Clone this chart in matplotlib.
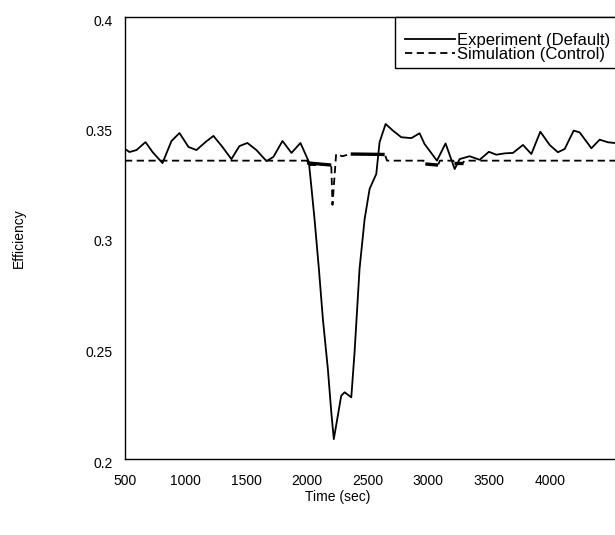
import matplotlib
matplotlib.use("Agg")
import matplotlib.pyplot as plt
import matplotlib.transforms as mtransforms
from matplotlib.patches import Rectangle

plt.rcParams['font.family'] = ['Liberation Sans', 'DejaVu Sans']

# Experiment (Default)
exp_t = [500, 537, 595, 669, 727, 809, 883, 949, 1023, 1089,
         1163, 1229, 1303, 1377, 1443, 1509, 1583, 1666, 1723, 1798,
         1872, 1946, 2015, 2035, 2062, 2098, 2131, 2172, 2200, 2221,
         2282, 2310, 2365, 2392, 2433, 2475, 2516, 2571, 2598, 2648,
         2708, 2777, 2860, 2928, 2969, 3010, 3071, 3142, 3217, 3258,
         3340, 3423, 3499, 3560, 3630, 3697, 3780, 3849, 3923, 4000,
         4068, 4124, 4198, 4247, 4344, 4412, 4481, 4536]
exp_v = [0.3403, 0.3389, 0.3398, 0.3434, 0.3389, 0.3339, 0.3439, 0.3475, 0.3412, 0.3398,
         0.3434, 0.3462, 0.3412, 0.3357, 0.3416, 0.3430, 0.3398, 0.3348, 0.3367, 0.3439,
         0.3385, 0.3430, 0.3345, 0.3237, 0.3086, 0.2860, 0.2633, 0.2407, 0.2213, 0.2090,
         0.2286, 0.2302, 0.2279, 0.2483, 0.2860, 0.3086, 0.3222, 0.3290, 0.3433, 0.3516,
         0.3486, 0.3456, 0.3452, 0.3474, 0.3425, 0.3395, 0.3350, 0.3428, 0.3312, 0.3357,
         0.3370, 0.3354, 0.3390, 0.3377, 0.3383, 0.3385, 0.3421, 0.3380, 0.3481, 0.3421,
         0.3388, 0.3403, 0.3486, 0.3478, 0.3406, 0.3445, 0.3433, 0.3430]

# Simulation (Control)
sim_t = [500, 2000, 2005, 2200, 2210, 2240, 2290, 2360, 2640, 2660,
         2960, 2975, 3080, 3095, 3205, 3215, 3285, 3300, 4600]
sim_v = [0.335, 0.335, 0.333, 0.333, 0.315, 0.338, 0.337, 0.338, 0.338, 0.335,
         0.335, 0.3335, 0.333, 0.335, 0.335, 0.334, 0.334, 0.335, 0.335]

# Segments of the simulation trace that appear as dense/bold
bold_segments = [
    ([2000, 2200], [0.3340, 0.3330]),
    ([2360, 2640], [0.3380, 0.3378]),
    ([2975, 3080], [0.3335, 0.3330]),
    ([3215, 3285], [0.3340, 0.3340]),
]

x_ticks = [500, 1000, 1500, 2000, 2500, 3000, 3500, 4000]
y_ticks = [0.2, 0.25, 0.3, 0.35, 0.4]
y_tick_labels = ['0.2', '0.25', '0.3', '0.35', '0.4']

fig = plt.figure(figsize=(6.15, 5.35), dpi=100)
ax_left, ax_top, ax_bottom, ax_w = 125, 17, 459, 546
ax_h = ax_bottom - ax_top
ax = fig.add_axes([ax_left/615, (535-ax_bottom)/535, ax_w/615, ax_h/535])

ax.plot(exp_t, exp_v, color='black', lw=1.3, label='Experiment (Default)')
ax.plot(sim_t, sim_v, color='black', lw=1.3, linestyle=(0, (4, 2.5)),
        label='Simulation (Control)')
for bx, by in bold_segments:
    ax.plot(bx, by, color='black', lw=2.4, solid_capstyle='butt')

ax.set_xlim(500, 5000)
ax.set_ylim(0.2, 0.4)
ax.set_xticks(x_ticks)
ax.set_xticklabels([str(t) for t in x_ticks])
ax.set_yticks(y_ticks)
ax.set_yticklabels(y_tick_labels)
ax.tick_params(axis='both', length=0, labelsize=10)
ax.tick_params(axis='x', pad=11)
ax.tick_params(axis='y', pad=9)
shift = mtransforms.ScaledTranslation(0, -3/100, fig.dpi_scale_trans)
for lab in ax.get_yticklabels():
    lab.set_transform(lab.get_transform() + shift)
for s in ax.spines.values():
    s.set_linewidth(1.0)
    s.set_color('black')

ax.set_xlabel('Time (sec)', fontsize=10)
ax.xaxis.set_label_coords((338-ax_left)/ax_w, -(490-ax_bottom)/ax_h)
ax.set_ylabel('Efficiency', fontsize=10)
ax.yaxis.set_label_coords((26-ax_left)/ax_w, 0.5)

# legend frame (extends past the right edge, as in the reference)
frame_bottom = 68
ax.add_patch(Rectangle(((395-ax_left)/ax_w, 1-(frame_bottom-ax_top)/ax_h),
                       1.0, (frame_bottom-ax_top)/ax_h, transform=ax.transAxes,
                       facecolor='white', edgecolor='black', lw=1.0,
                       clip_on=False, zorder=4))
leg = ax.legend(loc='upper left',
                bbox_to_anchor=((405-ax_left)/ax_w, 1-(33-ax_top)/ax_h),
                frameon=False, borderaxespad=0, borderpad=0,
                handlelength=3.0, handletextpad=0.1,
                labelspacing=-0.07, fontsize=12)
leg.set_zorder(5)

fig.savefig('out.png', dpi=100)
